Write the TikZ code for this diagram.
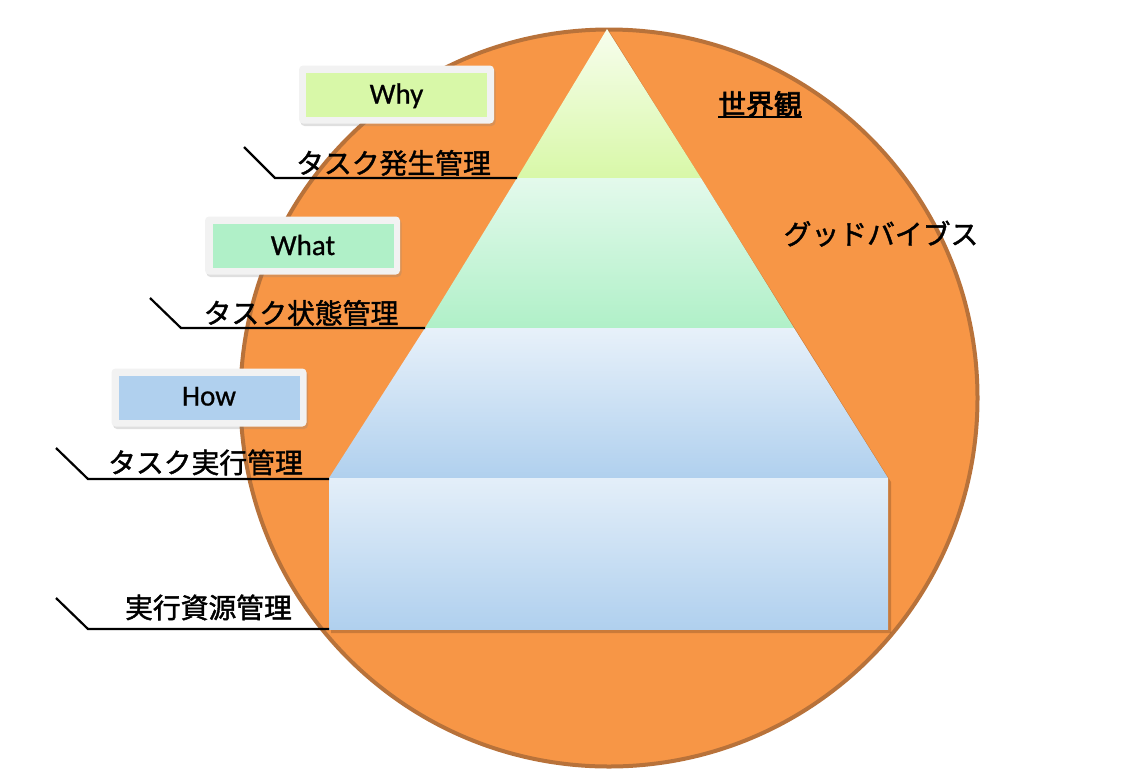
\documentclass[tikz,border=0pt]{standalone}
\usepackage{fontspec}
\setmainfont{Carlito}[RawFeature={embolden=0.8}]
\newfontfamily\jp{Noto Sans CJK JP}[RawFeature={embolden=1.5}]
\newfontfamily\jpb{Noto Sans CJK JP}[RawFeature={embolden=2.5}]
\usetikzlibrary{shadows}
\definecolor{orF}{HTML}{F79646}
\definecolor{orB}{HTML}{B8723A}
\definecolor{whyC}{HTML}{D8F8A8}
\definecolor{whatC}{HTML}{B0F0C8}
\definecolor{howC}{HTML}{B0D0EE}
\definecolor{boxG}{HTML}{F2F2F2}
\begin{document}
\begin{tikzpicture}[x=1pt,y=-1pt,
  outerbox/.style={rounded corners=4pt, fill=boxG, minimum width=195pt, minimum height=58pt, inner sep=0pt,
    drop shadow={opacity=0.25, shadow xshift=1.5pt, shadow yshift=-2.5pt}},
  innerbox/.style={minimum width=181pt, minimum height=44pt, inner sep=0pt},
  lat/.style={font=\fontsize{29}{32}\selectfont, inner sep=0pt, anchor=base},
  jtext/.style={font=\jp\fontsize{27.8}{32}\selectfont, inner sep=0pt, anchor=base},
  callout/.style={line width=2.2pt, black},
  layer/.style={shade}
]
\useasboundingbox (0,0) rectangle (1142,782);
% world circle
\node[circle, fill=orF, draw=orB, line width=4pt, minimum size=737pt, inner sep=0pt] (world) at (609,398) {};
% pyramid shadow
\fill[black, opacity=0.18] (609,31) -- (891,482) -- (891,633) -- (331,633) -- (331,482) -- cycle;
% layers
\path[layer, top color=white!80!whyC, bottom color=whyC] (607,29) -- (701,178) -- (517,178) -- cycle;
\path[layer, top color=white!65!whatC, bottom color=whatC] (517,178) -- (701,178) -- (794,328) -- (425,328) -- cycle;
\path[layer, top color=white!70!howC, bottom color=howC] (425,328) -- (794,328) -- (888,478) -- (329,478) -- cycle;
\path[layer, top color=white!65!howC, bottom color=howC] (329,478) rectangle (888,629);
% coordinates
\coordinate (c1s) at (244,147); \coordinate (c1k) at (275,178); \coordinate (c1e) at (517,178);
\coordinate (c2s) at (150,298); \coordinate (c2k) at (181,328); \coordinate (c2e) at (425,328);
\coordinate (c3s) at (56,448);  \coordinate (c3k) at (88,479);  \coordinate (c3e) at (329,479);
\coordinate (c4s) at (56,598);  \coordinate (c4k) at (88,629);  \coordinate (c4e) at (329,629);
\draw[callout] (c1s) -- (c1k) -- (c1e);
\draw[callout] (c2s) -- (c2k) -- (c2e);
\draw[callout] (c3s) -- (c3k) -- (c3e);
\draw[callout] (c4s) -- (c4k) -- (c4e);
% labels
\node[jtext] (t1) at (393.5,173.5) {タスク発生管理};
\node[jtext] (t2) at (301,323.5) {タスク状態管理};
\node[jtext] (t3) at (205.5,473) {タスク実行管理};
\node[jtext] (t4) at (208.5,618) {実行資源管理};
\node[jtext, font=\jpb\fontsize{27.8}{32}\selectfont] (w) at (760,114.5) {世界観};
\draw[line width=2pt] ([yshift=-2.5pt]w.base west) -- ([yshift=-2.5pt]w.base east);
\node[jtext] (g) at (881,244.5) {グッドバイブス};
% why/what/how boxes
\node[outerbox] (whyO) at (396.5,94.5) {};
\node[innerbox, fill=whyC] (whyI) at (396.5,95) {};
\node[lat] (why) at (396.5,103.5) {Why};
\node[outerbox] (whatO) at (302.5,245.5) {};
\node[innerbox, fill=whatC] (whatI) at (303,246) {};
\node[lat] (what) at (303,255) {What};
\node[outerbox] (howO) at (209,397.5) {};
\node[innerbox, fill=howC] (howI) at (209,397.5) {};
\node[lat] (how) at (209,405.5) {How};
\end{tikzpicture}
\end{document}
